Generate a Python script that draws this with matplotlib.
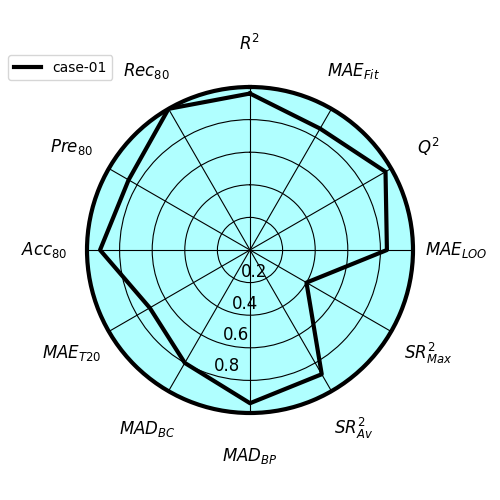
import numpy as np
import matplotlib
matplotlib.use("Agg")
import matplotlib.pyplot as plt

categories = [r'$R^2$', r'$MAE_{Fit}$', r'$Q^2$', r'$MAE_{LOO}$', r'$SR^2_{Max}$',
              r'$SR^2_{Av}$', r'$MAD_{BP}$', r'$MAD_{BC}$', r'$MAE_{T20}$',
              r'$Acc_{80}$', r'$Pre_{80}$', r'$Rec_{80}$']
values = [0.96, 0.86, 0.96, 0.84, 0.40, 0.88, 0.94, 0.80, 0.71, 0.92, 0.86, 1.00]
series_name = 'case-01'
rticks = [0.2, 0.4, 0.6, 0.8, 1.0]
rtick_labels = ['0.2', '0.4', '0.6', '0.8', '']

n = len(categories)
angles = np.arange(n) * 2 * np.pi / n

fig = plt.figure(figsize=(5, 5), dpi=100)
ax = fig.add_axes([0.174, 0.174, 0.652, 0.652], polar=True)
ax.set_theta_offset(np.pi / 2)
ax.set_theta_direction(-1)
ax.set_facecolor('#b0ffff')

a = np.append(angles, angles[0])
v = np.append(values, values[0])
ax.plot(a, v, color='black', linewidth=3, label=series_name)

ax.set_ylim(0, 1.0)
ax.set_yticks(rticks)
ax.set_yticklabels(rtick_labels, fontsize=12)
ax.set_rlabel_position(196)
ax.set_xticks(angles)
ax.set_xticklabels([])
ax.grid(True, color='black', linewidth=0.8)
ax.spines['polar'].set_linewidth(3)

for ang, lab in zip(angles, categories):
    ax.text(ang, 1.265, lab, ha='center', va='center', fontsize=12)

fig.legend(loc='upper left', bbox_to_anchor=(0.016, 0.89), borderaxespad=0,
           bbox_transform=fig.transFigure, fontsize=10)

fig.savefig('out.png', dpi=100)
